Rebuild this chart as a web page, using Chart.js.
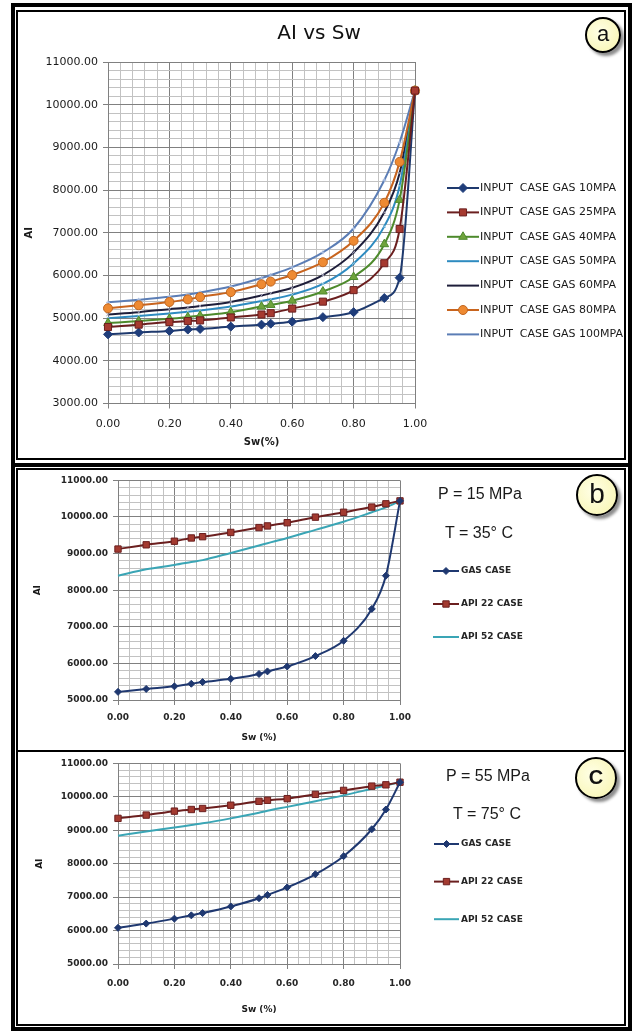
<!DOCTYPE html>
<html>
<head>
<meta charset="utf-8">
<title>AI vs Sw</title>
<script src="https://cdn.jsdelivr.net/npm/chart.js@4/dist/chart.umd.min.js"></script>
<style>
  html, body { margin: 0; padding: 0; background: #fff; }
  body { position: relative; width: 635px; height: 1035px; overflow: hidden; font-family: 'DejaVu Sans', sans-serif; }
  .frame { position: absolute; box-sizing: border-box; border: 4px solid #000; }
  .inner { position: absolute; box-sizing: border-box; border: 2px solid #000; }
  canvas { position: absolute; }
  .note { position: absolute; transform: translate(-50%, -50%); white-space: nowrap; color: #1a1a1a;
          font-family: 'Liberation Sans', Arial, sans-serif; font-size: 16px; line-height: 20px; }
  .title { font-family: 'DejaVu Sans', sans-serif; font-size: 20px; line-height: 24px; color: #111; }
  .badge { position: absolute; box-sizing: border-box; border: 2.5px solid #000; border-radius: 50%;
           background: radial-gradient(circle at 40% 40%, #ffffe6, #f7f4ad);
           box-shadow: 3px 3px 3px rgba(0,0,0,0.45); text-align: center; color: #111;
           font-family: 'Liberation Sans', Arial, sans-serif; }
</style>
</head>
<body>
<div class="frame" style="left:11px;top:3px;width:621px;height:464px"></div>
<div class="frame" style="left:11px;top:463px;width:621px;height:568px"></div>
<div class="inner" style="left:16px;top:10px;width:610px;height:450px"></div>
<div class="inner" style="left:16px;top:468px;width:610px;height:284px"></div>
<div class="inner" style="left:16px;top:750px;width:610px;height:276px"></div>

<canvas id="chartA" width="608" height="447" style="left:18px;top:12px;width:608px;height:447px"></canvas>
<canvas id="chartB" width="608" height="280" style="left:18px;top:470px;width:608px;height:280px"></canvas>
<canvas id="chartC" width="608" height="271" style="left:18px;top:753px;width:608px;height:271px"></canvas>

<div class="note title" style="left:319px;top:32px">AI vs Sw</div>
<div class="badge" style="left:585px;top:17px;width:36px;height:36px;font-size:22px;line-height:29px">a</div>
<div class="badge" style="left:576px;top:474px;width:42px;height:42px;font-size:28px;line-height:36px">b</div>
<div class="badge" style="left:575px;top:757px;width:42px;height:42px;font-size:20px;line-height:37px;font-weight:bold">C</div>
<div class="note" style="left:480px;top:494px">P = 15 MPa</div>
<div class="note" style="left:479px;top:533px">T = 35° C</div>
<div class="note" style="left:488px;top:776px">P = 55 MPa</div>
<div class="note" style="left:487px;top:814px">T = 75° C</div>

<script>
// water saturation points (x) shared by every series
const swValues = [0, 0.1, 0.2, 0.26, 0.3, 0.4, 0.5, 0.53, 0.6, 0.7, 0.8, 0.9, 0.95, 1.0];
const swTicks = [0, 0.2, 0.4, 0.6, 0.8, 1.0];
const aiTicksA = [3000, 4000, 5000, 6000, 7000, 8000, 9000, 10000, 11000];
const aiTicksBC = [5000, 6000, 7000, 8000, 9000, 10000, 11000];

// panel a - gas case at different pressures
const labelsA = ['INPUT  CASE GAS 10MPA', 'INPUT  CASE GAS 25MPA', 'INPUT  CASE GAS 40MPA', 'INPUT  CASE GAS 50MPA',
                 'INPUT  CASE GAS 60MPA', 'INPUT  CASE GAS 80MPA', 'INPUT  CASE GAS 100MPA'];
const gas10 = [4620, 4663, 4700, 4732, 4746, 4801, 4847, 4870, 4917, 5023, 5139, 5471, 5947, 10330];
const gas25 = [4792, 4847, 4908, 4931, 4947, 5016, 5085, 5116, 5224, 5386, 5656, 6286, 7088, 10330];
const gas40 = [4885, 4931, 4986, 5023, 5055, 5139, 5270, 5309, 5409, 5624, 5963, 6732, 7770, 10330];
const gas50 = [5000, 5050, 5110, 5150, 5180, 5270, 5400, 5440, 5550, 5800, 6280, 7150, 8100, 10330];
const gas60 = [5085, 5140, 5210, 5250, 5285, 5380, 5530, 5580, 5710, 6010, 6540, 7480, 8400, 10330];
const gas80 = [5230, 5300, 5378, 5439, 5494, 5609, 5794, 5855, 6009, 6309, 6811, 7702, 8660, 10330];
const gas100 = [5370, 5430, 5500, 5555, 5600, 5740, 5940, 6010, 6190, 6540, 7100, 8230, 9120, 10330];

// panels b and c - fluid cases
const labelsBC = ['GAS CASE', 'API 22 CASE', 'API 52 CASE'];
const gasCaseB = [5222, 5302, 5373, 5444, 5489, 5578, 5711, 5782, 5916, 6200, 6618, 7489, 8396, 10440];
const api22B = [9124, 9240, 9338, 9427, 9462, 9578, 9711, 9756, 9844, 9996, 10129, 10271, 10360, 10440];
const api52B = [8396, 8573, 8689, 8769, 8822, 9018, 9222, 9284, 9427, 9649, 9871, 10129, 10262, 10440];
const gasCaseC = [6082, 6209, 6357, 6455, 6524, 6721, 6967, 7065, 7291, 7684, 8225, 9031, 9621, 10437];
const api22C = [9356, 9454, 9572, 9621, 9651, 9749, 9867, 9897, 9946, 10074, 10192, 10320, 10359, 10437];
const api52C = [8835, 8963, 9081, 9159, 9208, 9356, 9523, 9582, 9700, 9867, 10044, 10241, 10339, 10437];

// order: lower is drawn on top (the red square sits on top at Sw = 1)
const stylesA = [
    { line: '#1f3a6e', fill: '#1f3d7a', edge: '#1f3d7a', shape: 'rectRot', r: 4.5, order: 2 },
    { line: '#6b1f1f', fill: '#a63a30', edge: '#6b1f1f', shape: 'rect', r: 5, order: 0 },
    { line: '#4d8a2c', fill: '#6fa33c', edge: '#4d8a2c', shape: 'triangle', r: 5, order: 3 },
    { line: '#2e8bc0', fill: '#8cc4e0', edge: '#8cc4e0', shape: 'crossRot', r: 2, order: 4 },
    { line: '#1e1e3a', fill: '#9a9ab0', edge: '#9a9ab0', shape: 'crossRot', r: 2, order: 5 },
    { line: '#c8641e', fill: '#ee8a32', edge: '#c0651f', shape: 'circle', r: 4.5, order: 1 },
    { line: '#5b7db5', fill: '#a9bde0', edge: '#a9bde0', shape: 'cross', r: 2, order: 6 }
];
const stylesBC = [
    { line: '#1f3870', fill: '#1f3870', edge: '#1f3870', shape: 'rectRot', r: 3.5, order: 0 },
    { line: '#6b1f1f', fill: '#a33a30', edge: '#6b1f1f', shape: 'rect', r: 4.5, order: 1 },
    { line: '#3aa5b5', fill: '#3aa5b5', edge: '#3aa5b5', shape: 'circle', r: 0, order: 2 }
];

const majorGrid = '#808080';
const minorGrid = '#c2c2c2';

function pts(ys) {
    return swValues.map((x, i) => ({ x: x, y: ys[i] }));
}

function isMajor(v, list) {
    return list.some(t => Math.abs(t - v) < 1e-6);
}

function makeDatasets(labels, series, styles) {
    return series.map((ys, i) => ({
        label: labels[i],
        data: pts(ys),
        order: styles[i].order,
        borderColor: styles[i].line,
        borderWidth: 2,
        pointStyle: styles[i].shape,
        pointRadius: styles[i].r,
        pointHoverRadius: styles[i].r,
        pointBackgroundColor: styles[i].fill,
        pointBorderColor: styles[i].edge,
        pointBorderWidth: 1,
        cubicInterpolationMode: 'monotone',
        clip: false
    }));
}

// legend drawn at fixed spots on the right, like the spreadsheet
const sideLegend = {
    id: 'sideLegend',
    afterDraw(chart, args, opts) {
        const ctx = chart.ctx;
        ctx.save();
        ctx.font = opts.font;
        ctx.textBaseline = 'middle';
        chart.data.datasets.forEach((ds, i) => {
            const y = opts.y0 + i * opts.dy;
            ctx.strokeStyle = ds.borderColor;
            ctx.lineWidth = ds.borderWidth;
            ctx.beginPath();
            ctx.moveTo(opts.x0, y);
            ctx.lineTo(opts.x1, y);
            ctx.stroke();
            if (ds.pointRadius > 2 && Chart.helpers && Chart.helpers.drawPoint) {
                ctx.fillStyle = ds.pointBackgroundColor;
                ctx.strokeStyle = ds.pointBorderColor;
                ctx.lineWidth = 1;
                Chart.helpers.drawPoint(ctx, { pointStyle: ds.pointStyle, radius: ds.pointRadius, rotation: 0, borderWidth: 1 },
                    (opts.x0 + opts.x1) / 2, y);
            }
            ctx.fillStyle = opts.color;
            ctx.textAlign = 'left';
            ctx.fillText(ds.label, opts.textX, y);
        });
        ctx.restore();
    }
};

function makeChart(id, p) {
    return new Chart(document.getElementById(id), {
        type: 'line',
        data: { datasets: p.datasets },
        plugins: [sideLegend],
        options: {
            responsive: false,
            animation: false,
            events: [],
            layout: { padding: p.padding },
            plugins: {
                legend: { display: false },
                tooltip: { enabled: false },
                title: { display: false },
                sideLegend: p.legend
            },
            scales: {
                x: {
                    type: 'linear',
                    min: 0, max: 1,
                    afterFit: s => { s.height = p.xHeight; },
                    ticks: {
                        stepSize: 0.04, autoSkip: false, maxRotation: 0,
                        padding: p.xPad, color: p.tickColor, font: p.tickFont,
                        callback: v => isMajor(v, swTicks) ? Number(v).toFixed(2) : ''
                    },
                    grid: {
                        color: c => c.tick && isMajor(c.tick.value, swTicks) ? majorGrid : minorGrid,
                        tickColor: c => c.tick && isMajor(c.tick.value, swTicks) ? majorGrid : 'rgba(0,0,0,0)',
                        tickLength: 5
                    },
                    border: { color: majorGrid },
                    title: { display: true, text: p.xTitle, color: '#1a1a1a', font: p.titleFont, padding: { top: 0, bottom: p.xTitlePad } }
                },
                y: {
                    type: 'linear',
                    min: p.yMin, max: 11000,
                    afterFit: s => { s.width = p.yWidth; },
                    ticks: {
                        stepSize: 200, autoSkip: false,
                        padding: 5, color: p.tickColor, font: p.tickFont,
                        callback: v => isMajor(v, p.yTicks) ? Number(v).toFixed(2) : ''
                    },
                    grid: {
                        color: c => c.tick && isMajor(c.tick.value, p.yTicks) ? majorGrid : minorGrid,
                        tickColor: c => c.tick && isMajor(c.tick.value, p.yTicks) ? majorGrid : 'rgba(0,0,0,0)',
                        tickLength: 5
                    },
                    border: { color: majorGrid },
                    title: { display: true, text: 'AI', color: '#1a1a1a', font: p.titleFont, padding: { top: p.yTitlePad, bottom: 0 } }
                }
            }
        }
    });
}

const fontA = { family: 'DejaVu Sans', size: 11 };
const fontBC = { family: 'DejaVu Sans', size: 9, weight: 'bold' };

makeChart('chartA', {
    datasets: makeDatasets(labelsA, [gas10, gas25, gas40, gas50, gas60, gas80, gas100], stylesA),
    padding: { left: 0, top: 50, right: 211, bottom: 0 },
    xHeight: 55.5, yWidth: 90, xPad: 9,
    yMin: 3000, yTicks: aiTicksA,
    tickFont: fontA, tickColor: '#1a1a1a',
    titleFont: { family: 'DejaVu Sans', size: 10, weight: 'bold' },
    xTitle: 'Sw(%)', xTitlePad: 10.7, yTitlePad: 5,
    legend: { x0: 429, x1: 461, textX: 462, y0: 176, dy: 24.4, font: '11px "DejaVu Sans"', color: '#1a1a1a' }
});

makeChart('chartB', {
    datasets: makeDatasets(labelsBC, [gasCaseB, api22B, api52B], stylesBC),
    padding: { left: 0, top: 5, right: 226, bottom: 0 },
    xHeight: 50, yWidth: 100, xPad: 7,
    yMin: 5000, yTicks: aiTicksBC,
    tickFont: fontBC, tickColor: '#262626',
    titleFont: fontBC,
    xTitle: 'Sw (%)', xTitlePad: 6.6, yTitlePad: 14.6,
    legend: { x0: 415, x1: 441, textX: 443, y0: 101, dy: 33, font: 'bold 9px "DejaVu Sans"', color: '#262626' }
});

makeChart('chartC', {
    datasets: makeDatasets(labelsBC, [gasCaseC, api22C, api52C], stylesBC),
    padding: { left: 0, top: 8, right: 226, bottom: 0 },
    xHeight: 60, yWidth: 100, xPad: 9,
    yMin: 5000, yTicks: aiTicksBC,
    tickFont: fontBC, tickColor: '#262626',
    titleFont: fontBC,
    xTitle: 'Sw (%)', xTitlePad: 8.6, yTitlePad: 16.6,
    legend: { x0: 416, x1: 441, textX: 443, y0: 91, dy: 37.6, font: 'bold 9px "DejaVu Sans"', color: '#262626' }
});
</script>
</body>
</html>
